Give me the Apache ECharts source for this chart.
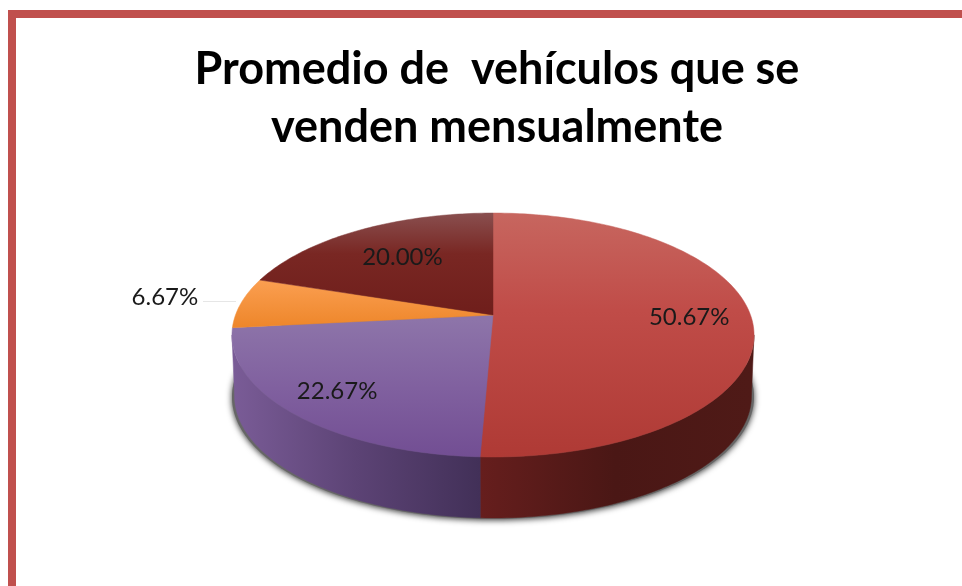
<!DOCTYPE html>
<html>
<head>
<meta charset="utf-8">
<title>Promedio de vehículos</title>
<style>
  html, body { margin: 0; padding: 0; background: #fff; }
  #chart { width: 962px; height: 586px; }
</style>
<script src="https://cdn.jsdelivr.net/npm/echarts@6/dist/echarts.min.js"></script>
</head>
<body>
<div id="chart"></div>
<script>
const titleLines = ['Promedio de  vehículos que se', 'venden mensualmente']
const categories = ['A', 'B', 'C', 'D']
const values = [50.67, 22.67, 6.67, 20.0]
const valueLabels = ['50.67%', '22.67%', '6.67%', '20.00%']

// pie geometry: a tilted disc, so the slices meet above the middle of the ellipse
const cx = 493
const cy = 315
const radiusX = 257.5
const radiusY = 118.7
const tilt = 0.164
const depth = 61
const deg = Math.PI / 180

// where each label sits along its slice's middle radius
const labelRadius = [0.76, 0.8, 1.31, 0.65]

const grad = (x0, y0, x1, y1, stops) =>
  new echarts.graphic.LinearGradient(x0, y0, x1, y1,
    stops.map(s => ({ offset: s[0], color: s[1] })), true)

const faceFill = [
  grad(0, 213, 0, 457, [[0, '#c7665f'], [0.4, '#c04c48'], [1, '#af3a35']]),
  grad(0, 320, 0, 457, [[0, '#8d74a9'], [0.5, '#80609f'], [1, '#724e93']]),
  grad(0, 279, 0, 326, [[0, '#fb9f52'], [1, '#ee872b']]),
  grad(0, 213, 0, 315, [[0, '#894f4f'], [0.4, '#792723'], [1, '#6f1e1b']])
]
const wallFill = [
  grad(480, 0, 750, 0, [[0, '#661e1d'], [0.5, '#4a1715'], [1, '#4f1a17']]),
  grad(232, 0, 480, 0, [[0, '#7a5c97'], [0.5, '#5c4375'], [1, '#423058']])
]

// angle is clockwise from 12 o'clock
function project(angle, r) {
  const u = Math.sin(angle * deg) * r
  const v = -Math.cos(angle * deg) * r
  const w = 1 - tilt * v
  return [cx + radiusX * u / w, cy + radiusY * v / w]
}

function arc(from, to) {
  const pts = []
  const steps = Math.max(2, Math.ceil(Math.abs(to - from)))
  for (let i = 0; i <= steps; i++) {
    pts.push(project(from + (to - from) * i / steps, 1))
  }
  return pts
}

const total = values.reduce((a, b) => a + b, 0)
function sliceAngles(i) {
  let sum = 0
  for (let k = 0; k < i; k++) sum += values[k]
  return [sum / total * 360, (sum + values[i]) / total * 360]
}

const lowered = p => [cx + (p[0] - cx) * 0.99, p[1] + depth]

function renderShadow(params) {
  if (params.dataIndex !== 0) return
  return {
    type: 'polygon',
    shape: { points: arc(0, 360).map(p => [p[0], p[1] + depth + 1]) },
    style: {
      fill: '#666',
      shadowBlur: 6,
      shadowColor: 'rgba(0,0,0,0.8)',
      shadowOffsetX: 0,
      shadowOffsetY: 1
    }
  }
}

function renderWall(params) {
  const i = params.dataIndex
  const a = sliceAngles(i)
  // only the part of the rim that faces the viewer
  const from = Math.max(a[0], 99.4)
  const to = Math.min(a[1], 260.6)
  if (to <= from) return
  const top = arc(from, to)
  return {
    type: 'polygon',
    shape: { points: top.concat(top.map(lowered).reverse()) },
    style: { fill: wallFill[i], stroke: wallFill[i], lineWidth: 0.5 }
  }
}

function renderFace(params) {
  const i = params.dataIndex
  const a = sliceAngles(i)
  return {
    type: 'polygon',
    shape: { points: [[cx, cy]].concat(arc(a[0], a[1])) },
    style: { fill: faceFill[i], stroke: faceFill[i], lineWidth: 0.5 }
  }
}

function renderLabel(params) {
  const i = params.dataIndex
  const a = sliceAngles(i)
  const p = project((a[0] + a[1]) / 2, labelRadius[i])
  return {
    type: 'text',
    style: {
      text: valueLabels[i],
      x: p[0],
      y: p[1] + (i === 2 ? -2 : 0),
      fill: '#1a1a1a',
      font: '24px Lato',
      align: 'center',
      verticalAlign: 'middle'
    }
  }
}

const seriesData = categories.map((c, i) => ({ name: c, value: values[i] }))
const layer = (renderItem, z) => ({
  type: 'custom',
  coordinateSystem: 'none',
  renderItem,
  data: seriesData,
  silent: true,
  animation: false,
  z
})

const myChart = echarts.init(document.getElementById('chart'), null, { renderer: 'canvas' })
myChart.setOption({
  backgroundColor: '#fff',
  animation: false,
  title: {
    text: titleLines.join('\n'),
    left: 492,
    top: 35,
    textAlign: 'center',
    textStyle: {
      fontFamily: 'Lato',
      fontWeight: 'bold',
      fontSize: 45,
      lineHeight: 58,
      color: '#000'
    }
  },
  graphic: [
    // frame, only top and left edges show
    { type: 'rect', shape: { x: 8, y: 10, width: 954, height: 8 }, style: { fill: '#c0504d' }, silent: true },
    { type: 'rect', shape: { x: 8, y: 10, width: 8, height: 576 }, style: { fill: '#c0504d' }, silent: true },
    // leader line of the small slice
    { type: 'line', shape: { x1: 203, y1: 301.5, x2: 236, y2: 301.5 }, style: { stroke: '#e6e6e6', lineWidth: 1 }, silent: true }
  ],
  series: [
    layer(renderShadow, 2),
    layer(renderWall, 3),
    layer(renderFace, 4),
    layer(renderLabel, 5)
  ]
})
</script>
</body>
</html>
